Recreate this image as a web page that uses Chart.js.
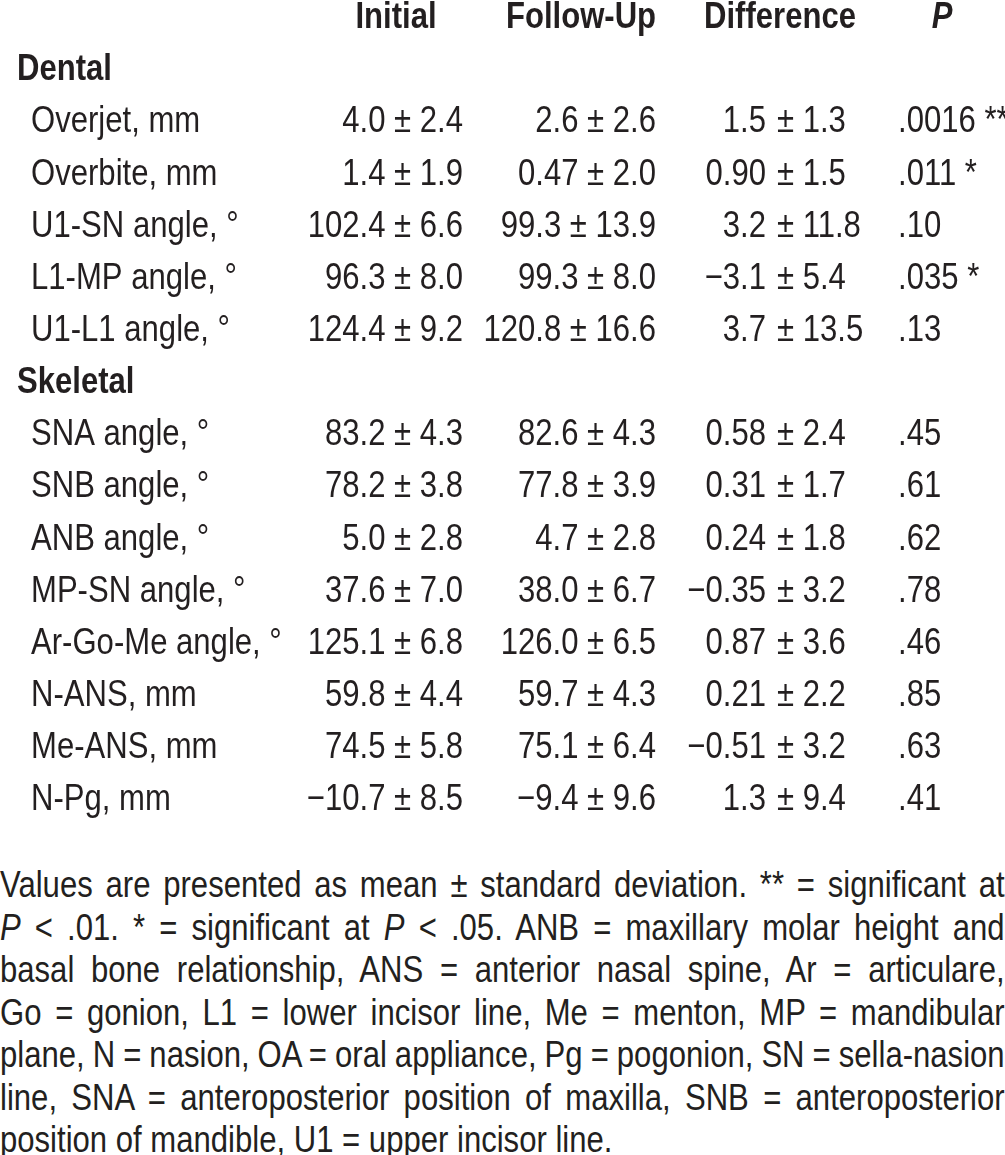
<!DOCTYPE html>
<html>
<head>
<meta charset="utf-8">
<script src="https://cdn.jsdelivr.net/npm/chart.js@4.4.1/dist/chart.umd.min.js"></script>
<style>
  html, body { margin: 0; padding: 0; background: #fff; overflow: hidden; }
  #wrap { position: relative; width: 1005px; height: 1155px; overflow: hidden; }
  #myChart { position: absolute; left: 0; top: 0; }
  #note {
    position: absolute; left: 0; top: 864px; width: 1196px;
    transform: scaleX(0.84); transform-origin: 0 0;
    font-family: "Liberation Sans", Arial, sans-serif;
    font-size: 37px; line-height: 42.5px; color: #231f20;
  }
  #note .ln { text-align: justify; text-align-last: justify; }
  #note .tight { word-spacing: -2px; }
  #note .last { text-align: left; text-align-last: left; }
</style>
</head>
<body>
<div id="wrap">
  <canvas id="myChart" width="1005" height="840"></canvas>
  <div id="note">
    <div class="ln">Values are presented as mean ± standard deviation. ** = significant at</div>
    <div class="ln"><i>P</i> &lt; .01. * = significant at <i>P</i> &lt; .05. ANB = maxillary molar height and</div>
    <div class="ln">basal bone relationship, ANS = anterior nasal spine, Ar = articulare,</div>
    <div class="ln">Go = gonion, L1 = lower incisor line, Me = menton, MP = mandibular</div>
    <div class="ln tight">plane, N = nasion, OA = oral appliance, Pg = pogonion, SN = sella-nasion</div>
    <div class="ln">line, SNA = anteroposterior position of maxilla, SNB = anteroposterior</div>
    <div class="ln last">position of mandible, U1 = upper incisor line.</div>
  </div>
</div>
<script>
var columns = ["Initial", "Follow-Up", "Difference", "P"]

var dentalRows = ["Overjet, mm", "Overbite, mm", "U1-SN angle, °", "L1-MP angle, °", "U1-L1 angle, °"]
var skeletalRows = ["SNA angle, °", "SNB angle, °", "ANB angle, °", "MP-SN angle, °", "Ar-Go-Me angle, °", "N-ANS, mm", "Me-ANS, mm", "N-Pg, mm"]

var initialMean = ["4.0", "1.4", "102.4", "96.3", "124.4", "83.2", "78.2", "5.0", "37.6", "125.1", "59.8", "74.5", "\u221210.7"]
var initialSd   = ["2.4", "1.9", "6.6", "8.0", "9.2", "4.3", "3.8", "2.8", "7.0", "6.8", "4.4", "5.8", "8.5"]
var followMean  = ["2.6", "0.47", "99.3", "99.3", "120.8", "82.6", "77.8", "4.7", "38.0", "126.0", "59.7", "75.1", "\u22129.4"]
var followSd    = ["2.6", "2.0", "13.9", "8.0", "16.6", "4.3", "3.9", "2.8", "6.7", "6.5", "4.3", "6.4", "9.6"]
var diffMean    = ["1.5", "0.90", "3.2", "\u22123.1", "3.7", "0.58", "0.31", "0.24", "\u22120.35", "0.87", "0.21", "\u22120.51", "1.3"]
var diffSd      = ["1.3", "1.5", "11.8", "5.4", "13.5", "2.4", "1.7", "1.8", "3.2", "3.6", "2.2", "3.2", "9.4"]
var pValues     = [".0016 **", ".011 *", ".10", ".035 *", ".13", ".45", ".61", ".62", ".78", ".46", ".85", ".63", ".41"]

// rows of the table: header row, section rows and measurements
var rowLabels = ["", "Dental"].concat(dentalRows, ["Skeletal"], skeletalRows)

var FONT = '"Liberation Sans", Arial, sans-serif'
var INK = "#231f20"
var NARROW = 0.84   // no narrow face installed, so squeeze the regular one

function drawText(ctx, text, px, py, align, font) {
  ctx.save()
  ctx.font = font
  ctx.textAlign = align
  ctx.textBaseline = "middle"
  ctx.translate(px, py)
  ctx.scale(NARROW, 1)
  ctx.fillText(text, 0, 0)
  ctx.restore()
}

var tablePlugin = {
  id: "tableText",
  afterDraw: function(chart) {
    var ctx = chart.ctx
    var x = chart.scales.x
    var y = chart.scales.y
    var plain = "37px " + FONT
    var bold = "bold 37px " + FONT
    ctx.fillStyle = INK

    // header
    var y0 = y.getPixelForValue(0)
    drawText(ctx, columns[0], x.getPixelForValue(396), y0, "center", bold)
    drawText(ctx, columns[1], x.getPixelForValue(581), y0, "center", bold)
    drawText(ctx, columns[2], x.getPixelForValue(780), y0, "center", bold)
    drawText(ctx, columns[3], x.getPixelForValue(942), y0, "center", "italic " + bold)

    var k = 0
    for (var i = 1; i < rowLabels.length; i++) {
      var py = y.getPixelForValue(i)
      var label = rowLabels[i]
      if (label === "Dental" || label === "Skeletal") {
        drawText(ctx, label, x.getPixelForValue(17), py, "left", bold)
        continue
      }
      drawText(ctx, label, x.getPixelForValue(31), py, "left", plain)
      drawText(ctx, initialMean[k] + " ± " + initialSd[k], x.getPixelForValue(463), py, "right", plain)
      drawText(ctx, followMean[k] + " ± " + followSd[k], x.getPixelForValue(656), py, "right", plain)
      drawText(ctx, diffMean[k], x.getPixelForValue(766), py, "right", plain)
      drawText(ctx, "± " + diffSd[k], x.getPixelForValue(777), py, "left", plain)
      drawText(ctx, pValues[k], x.getPixelForValue(898), py, "left", plain)
      k++
    }
  }
}

var myChart = document.getElementById("myChart").getContext("2d")

var chart = new Chart(myChart, {
  type: "scatter",
  data: {
    labels: rowLabels,
    datasets: []
  },
  options: {
    responsive: false,
    animation: false,
    devicePixelRatio: 1,
    layout: { padding: { top: 18, bottom: 40, left: 0, right: 0 } },
    plugins: {
      legend: { display: false },
      tooltip: { enabled: false }
    },
    scales: {
      x: { type: "linear", min: 0, max: 1005, display: false },
      y: { type: "category", labels: rowLabels, offset: false, display: false }
    }
  },
  plugins: [tablePlugin]
})
</script>
</body>
</html>
